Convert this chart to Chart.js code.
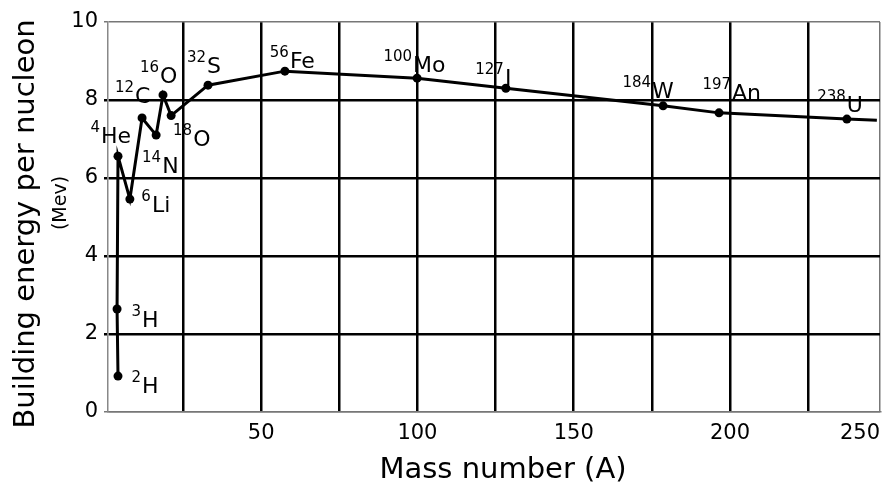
<!DOCTYPE html>
<html>
<head>
<meta charset="utf-8">
<script src="https://cdn.jsdelivr.net/npm/chart.js@4"></script>
<style>
  body { margin: 0; background: #fff; }
</style>
</head>
<body>
<canvas id="bindingChart" width="885" height="486"></canvas>
<script>
// Mass number (A) and binding energy per nucleon (MeV)
const massNumbers = [4.2, 3.9, 4.2, 8.0, 11.9, 16.4, 18.6, 21.2, 33.0, 57.6, 99.9, 128.3, 178.6, 196.5, 237.4, 247.0];
const bindingEnergy = [0.92, 2.64, 6.56, 5.46, 7.54, 7.10, 8.13, 7.60, 8.38, 8.74, 8.56, 8.30, 7.85, 7.67, 7.51, 7.48];
const nuclideMass = ['2', '3', '4', '6', '12', '14', '16', '18', '32', '56', '100', '127', '184', '197', '238', ''];
const nuclideSymbol = ['H', 'H', 'He', 'Li', 'C', 'N', 'O', 'O', 'S', 'Fe', 'Mo', 'I', 'W', 'An', 'U', ''];
const xTicks = [25, 50, 75, 100, 125, 150, 175, 200, 225, 248];
const xTickLabels = ['', '50', '', '100', '', '150', '', '200', '', '250'];
const yTicks = [0, 2, 4, 6, 8, 10];

// label placement relative to each point (symbol left edge, baseline), pixels
const labelOffsets = [[24, 17], [25, 18], [-17, -13], [22, 13], [-7, -15], [6, 38], [-3, -12], [22, 30],
    [-1, -12], [5, -3], [-4, -6], [-1, -3], [-11, -8], [13, -13], [0, -7]];

const FONT = '"DejaVu Sans", sans-serif';

// Draw nuclide labels and axis titles
const labelPlugin = {
    id: 'nuclideLabels',
    afterDatasetsDraw(chart) {
        const ctx = chart.ctx;
        const meta = chart.getDatasetMeta(0);
        ctx.save();
        ctx.fillStyle = '#000';
        ctx.textBaseline = 'alphabetic';
        nuclideSymbol.forEach((sym, i) => {
            if (!sym) return;
            const pt = meta.data[i];
            const x = pt.x + labelOffsets[i][0];
            const y = pt.y + labelOffsets[i][1];
            ctx.font = '22px ' + FONT;
            ctx.textAlign = 'left';
            ctx.fillText(sym, x, y);
            ctx.font = '15px ' + FONT;
            ctx.textAlign = 'right';
            ctx.fillText(nuclideMass[i], x - 1, y - 11);
        });
        ctx.restore();
    },
    afterDraw(chart) {
        const ctx = chart.ctx;
        ctx.save();
        ctx.fillStyle = '#000';
        // x title
        ctx.font = '29px ' + FONT;
        ctx.textAlign = 'center';
        ctx.textBaseline = 'alphabetic';
        ctx.fillText('Mass number (A)', 503, 478);
        // y title, two lines
        ctx.translate(26, 224);
        ctx.rotate(-Math.PI / 2);
        ctx.textBaseline = 'middle';
        ctx.fillText('Building energy per nucleon', 0, 0);
        ctx.restore();
        ctx.save();
        ctx.fillStyle = '#000';
        ctx.translate(61, 203);
        ctx.rotate(-Math.PI / 2);
        ctx.font = '19px ' + FONT;
        ctx.textAlign = 'center';
        ctx.textBaseline = 'middle';
        ctx.fillText('(Mev)', 0, 0);
        ctx.restore();
    }
};

const points = massNumbers.map((a, i) => ({ x: a, y: bindingEnergy[i] }));

new Chart(document.getElementById('bindingChart').getContext('2d'), {
    type: 'line',
    data: {
        datasets: [{
            data: points,
            borderColor: '#000',
            backgroundColor: '#000',
            borderWidth: 3,
            tension: 0,
            pointRadius: ctx => (nuclideSymbol[ctx.dataIndex] ? 4.5 : 0),
            pointBorderWidth: 0
        }]
    },
    options: {
        responsive: false,
        animation: false,
        devicePixelRatio: 1,
        layout: { padding: { top: 22, right: 5, left: 0, bottom: 0 } },
        plugins: { legend: { display: false }, tooltip: { enabled: false } },
        scales: {
            x: {
                type: 'linear',
                min: 1,
                max: 248,
                afterBuildTicks: scale => { scale.ticks = xTicks.map(v => ({ value: v })); },
                afterFit: scale => {
                    scale.height = 74;
                    scale.paddingLeft = 0;
                    scale.paddingRight = 0;
                },
                ticks: {
                    align: 'inner',
                    maxRotation: 0,
                    autoSkip: false,
                    padding: 9,
                    color: '#000',
                    font: { family: FONT, size: 21 },
                    callback: (v, i) => xTickLabels[i]
                },
                grid: {
                    drawTicks: false,
                    color: ctx => (ctx.tick && ctx.tick.value === 248 ? '#777' : '#000'),
                    lineWidth: ctx => (ctx.tick && ctx.tick.value === 248 ? 1.5 : 2.5)
                },
                border: { color: '#777', width: 1.5 }
            },
            y: {
                min: 0,
                max: 10,
                afterBuildTicks: scale => { scale.ticks = yTicks.map(v => ({ value: v })); },
                afterFit: scale => { scale.width = 108; },
                ticks: {
                    padding: 6,
                    color: '#000',
                    font: { family: FONT, size: 21 }
                },
                grid: {
                    tickLength: 4,
                    color: ctx => (ctx.tick && (ctx.tick.value === 10 || ctx.tick.value === 0) ? '#777' : '#000'),
                    lineWidth: ctx => (ctx.tick && (ctx.tick.value === 10 || ctx.tick.value === 0) ? 1.5 : 2.5)
                },
                border: { color: '#888', width: 1.5 }
            }
        }
    },
    plugins: [labelPlugin]
});
</script>
</body>
</html>
